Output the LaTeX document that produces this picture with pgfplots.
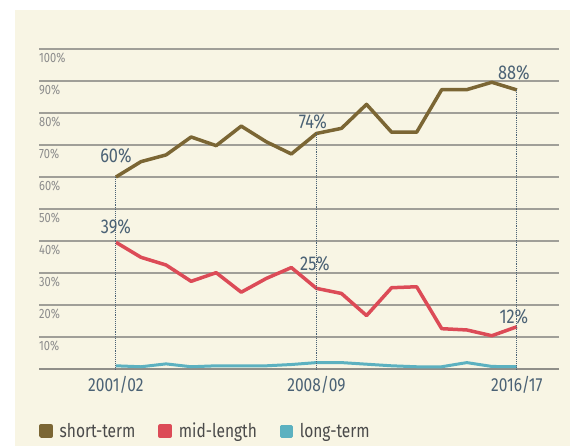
\documentclass[border=0pt]{standalone}
\usepackage{pgfplots}
\pgfplotsset{compat=1.18}
\usepackage{fontspec}
\setmainfont{Fira Sans}[FakeStretch=0.82]
\definecolor{bgc}{HTML}{F8F5E4}
\definecolor{shortc}{HTML}{7B6634}
\definecolor{midc}{HTML}{DC4B57}
\definecolor{longc}{HTML}{5CB1C0}
\definecolor{lblc}{HTML}{4B6275}
\definecolor{gridc}{HTML}{A09F98}
\definecolor{tickc}{HTML}{8C8C8C}
\definecolor{legc}{HTML}{4A4A4A}
\begin{document}
\begin{tikzpicture}
\useasboundingbox (-39bp,-77bp) rectangle (531bp,369bp);
\fill[bgc] (-24bp,-77bp) rectangle (531bp,359bp);
\begin{axis}[
  scale only axis, width=520bp, height=320bp,
  xmin=-3.07, xmax=17.68, ymin=0, ymax=100,
  axis x line*=bottom, axis y line*=left,
  y axis line style={draw=none},
  x axis line style={draw=gridc!90!black, line width=1.6bp},
  major tick length=0pt,
  xtick={0,8,16}, xticklabels={2001/02,2008/09,2016/17},
  xticklabel style={font=\fontsize{19}{19}\selectfont, text=lblc, anchor=north, inner sep=0pt, yshift=-7bp},
  ytick={10,20,...,100},
  yticklabels={10\%,20\%,30\%,40\%,50\%,60\%,70\%,80\%,90\%,100\%},
  yticklabel style={font=\fontsize{13.5}{13.5}\selectfont, text=tickc, anchor=north west, inner sep=0pt, yshift=-3.5bp},
  ymajorgrids, major grid style={draw=gridc, line width=1.2bp},
  clip=false,
  legend columns=3,
  legend style={draw=none, fill=none, at={(rel axis cs:0,-0.194)}, anchor=west, inner sep=0pt,
    font=\fontsize{19}{19}\selectfont, text=legc,
    /tikz/every odd column/.append style={column sep=5bp},
    /tikz/every even column/.append style={column sep=21bp}},
  legend image code/.code={\fill[#1] (0bp,-5bp) rectangle (10bp,5bp);},
]
\addplot[shortc, line width=3.5bp, line join=round] coordinates {
(0,60) (1,64.8) (2,66.9) (3,72.5) (4,69.8) (5,75.9) (6,71) (7,67.2) (8,73.6)
(9,75.2) (10,82.7) (11,74) (12,74) (13,87.3) (14,87.3) (15,89.6) (16,87.2)};
\addlegendentry{short-term}
\addplot[midc, line width=3.5bp, line join=round] coordinates {
(0,39.6) (1,34.9) (2,32.5) (3,27.4) (4,30.1) (5,24) (6,28.3) (7,31.7) (8,25.2)
(9,23.6) (10,16.7) (11,25.4) (12,25.7) (13,12.6) (14,12.2) (15,10.4) (16,13.2)};
\addlegendentry{mid-length}
\addplot[longc, line width=3bp, line join=round] coordinates {
(0,1.0) (1,0.7) (2,1.6) (3,0.7) (4,1.0) (5,1.0) (6,1.0) (7,1.4) (8,2.0)
(9,2.0) (10,1.5) (11,1.0) (12,0.7) (13,0.7) (14,2.0) (15,0.8) (16,0.7)};
\addlegendentry{long-term}
\addplot[lblc, densely dotted, line width=0.9bp, forget plot] coordinates {(0,60) (0,0)};
\addplot[lblc, densely dotted, line width=0.9bp, forget plot] coordinates {(8,73.6) (8,0)};
\addplot[lblc, densely dotted, line width=0.9bp, forget plot] coordinates {(16,87.2) (16,0)};
\begin{scope}[every node/.style={font=\fontsize{20}{20}\selectfont, text=lblc, inner sep=0pt}]
\node at (axis cs:0,66.6) {60\%};
\node at (axis cs:0,44.4) {39\%};
\node at (axis cs:7.86,77.2) {74\%};
\node at (axis cs:7.94,32.8) {25\%};
\node at (axis cs:15.88,92.5) {88\%};
\node at (axis cs:15.88,16.25) {12\%};
\end{scope}
\end{axis}
\end{tikzpicture}
\end{document}
